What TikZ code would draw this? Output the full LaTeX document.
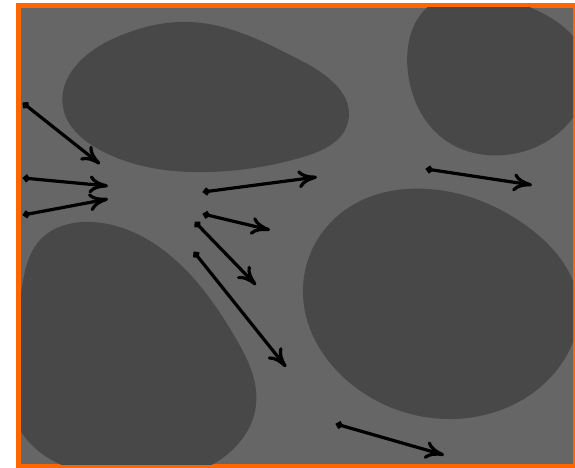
\documentclass[tikz,border=0pt]{standalone}
\usetikzlibrary{arrows.meta,hobby}
\definecolor{frameor}{RGB}{255,102,0}
\definecolor{bggray}{RGB}{102,102,102}
\definecolor{blobgray}{RGB}{72,72,72}
\tikzset{
  vec/.style={line width=3.2pt, black, {Circle[length=7pt]}-{To[length=19pt,width=18pt]}},
  blob/.style={fill=blobgray, draw=none, use Hobby shortcut, closed=true}
}
\begin{document}
\begin{tikzpicture}[x=1pt,y=-1pt]
\useasboundingbox (0,0) rectangle (575,468);
\fill[white] (0,0) rectangle (575,468);
\fill[frameor] (16,3) rectangle (575,468);
\fill[bggray] (21,8) rectangle (573,464);
\begin{scope}
\clip (21,8) rectangle (573,464);
% top-left egg
\fill[blob] (63,107) .. (117,37) .. (190,22) .. (300,60) .. (348,122)
 .. (303,157) .. (210,172) .. (100,150);
% top-right blob
\fill[blob] (408,73) .. (445,140) .. (505,155) .. (562,130) .. (584,55) .. (522,4) .. (430,5);
% right big blob
\fill[blob] (303,287) .. (345,210) .. (428,189) .. (528,227)
 .. (578,300) .. (548,380) .. (452,419) .. (355,387);
% bottom-left blob
\fill[blob] (92,222) .. (172,257) .. (235,337) .. (256,405)
 .. (215,463) .. (110,478) .. (20,430) .. (20,300) .. (40,240);
\end{scope}
% arrows
\coordinate (s1) at (23,103);  \coordinate (e1) at (100,164);
\coordinate (s2) at (23,178);  \coordinate (e2) at (108,186);
\coordinate (s3) at (23,215);  \coordinate (e3) at (108,199);
\coordinate (s4) at (203,192); \coordinate (e4) at (317,177);
\coordinate (s5) at (203,214); \coordinate (e5) at (270,230);
\coordinate (s6) at (195,222); \coordinate (e6) at (256,285);
\coordinate (s7) at (194,252); \coordinate (e7) at (286,367);
\coordinate (s8) at (336,424); \coordinate (e8) at (444,455);
\coordinate (s9) at (426,169); \coordinate (e9) at (532,185);
\foreach \i in {1,...,9} \draw[vec] (s\i) -- (e\i);
\end{tikzpicture}
\end{document}
